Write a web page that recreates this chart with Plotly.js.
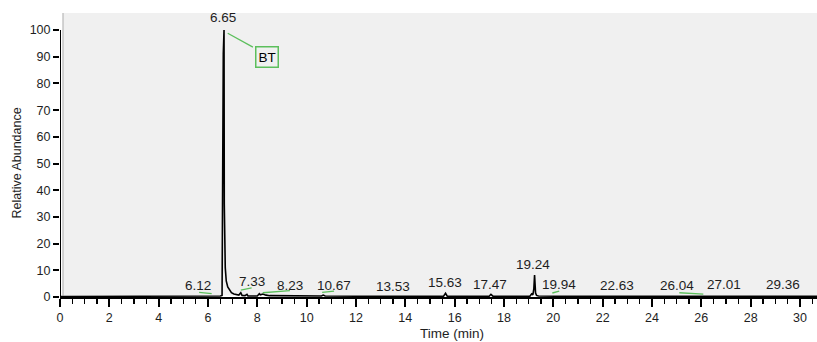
<!DOCTYPE html>
<html>
<head>
<meta charset="utf-8">
<script src="https://cdn.plot.ly/plotly-3.0.1.min.js"></script>
<style>html,body{margin:0;padding:0;background:#fff;}#chart{width:817px;height:342px;}</style>
</head>
<body>
<div id="chart"></div>
<script>
// Chromatogram trace (time in min, relative abundance %)
const timeMin = [0, 2, 4, 5.5, 6.0, 6.12, 6.3, 6.5, 6.57, 6.59, 6.61, 6.62, 6.65, 6.66, 6.70, 6.74, 6.80, 6.88, 6.95, 7.05, 7.15, 7.25, 7.33, 7.38, 7.50, 7.58, 7.62, 7.70, 8.00, 8.08, 8.12, 8.23, 8.35, 8.50, 9.50, 10.60, 10.67, 10.75, 12.0, 13.53, 15.55, 15.63, 15.70, 17.40, 17.47, 17.55, 19.05, 19.12, 19.17, 19.21, 19.24, 19.28, 19.32, 19.40, 19.94, 20.10, 22.63, 26.04, 27.01, 29.36, 30.69];
const abundance = [0.2, 0.2, 0.2, 0.2, 0.3, 0.4, 0.3, 0.4, 0.6, 91, 88, 91, 100, 35, 11, 6, 3.8, 2.4, 1.6, 1.1, 0.9, 0.7, 1.6, 0.6, 0.5, 1.0, 0.4, 0.4, 0.4, 1.2, 0.8, 1.1, 0.7, 0.5, 0.4, 0.4, 0.7, 0.4, 0.3, 0.3, 0.3, 1.4, 0.3, 0.3, 1.0, 0.3, 0.3, 1.2, 0.8, 3, 8.2, 1.5, 0.6, 0.4, 0.5, 0.3, 0.3, 0.3, 0.3, 0.3, 0.3];

// Peak labels (retention times) and label anchor positions
const peakLabels = ['6.12', '6.65', '7.33', '8.23', '10.67', '13.53', '15.63', '17.47', '19.24', '19.94', '22.63', '26.04', '27.01', '29.36'];
const labelX = [5.59, 6.60, 7.77, 9.32, 11.11, 13.49, 15.61, 17.43, 19.19, 20.24, 22.57, 25.0, 26.92, 29.32];
const labelY = [4.2, 104.6, 5.7, 4.2, 4.2, 4.1, 5.4, 4.8, 12.0, 4.8, 4.3, 4.3, 4.5, 4.5];

// Green label leader lines [x0, y0, x1, y1]
const leaderX0 = [5.64, 7.33, 8.22, 10.63, 19.96, 25.11, 6.80];
const leaderY0 = [1.76, 2.6, 1.6, 1.7, 1.5, 1.6, 98.8];
const leaderX1 = [6.15, 7.77, 9.32, 11.11, 20.24, 26.08, 7.82];
const leaderY1 = [1.24, 3.4, 2.4, 2.2, 2.2, 1.1, 93.6];

const boxLabel = 'BT';
const boxX = 8.38, boxY = 90.0;

const xTicks = [0, 2, 4, 6, 8, 10, 12, 14, 16, 18, 20, 22, 24, 26, 28, 30];
const yTicks = [0, 10, 20, 30, 40, 50, 60, 70, 80, 90, 100];

const FONT = 'Liberation Sans, Arial, sans-serif';
const TXT = '#1e1e1e';
const GREEN = '#5cbf5c';

const shapes = [
  {type: 'rect', xref: 'paper', yref: 'paper', x0: 0.004, x1: 1, y0: 0.005, y1: 1,
   fillcolor: '#f0f0f0', line: {width: 0}, layer: 'below'},
  {type: 'line', xref: 'paper', yref: 'paper', x0: 0.004, x1: 0.004, y0: 0.005, y1: 1,
   line: {color: '#c4c4c4', width: 1.5}, layer: 'below'},
  {type: 'line', xref: 'x', yref: 'y', x0: 0, x1: 0, y0: 0, y1: 100,
   line: {color: '#000', width: 2}}
];
for (let i = 0; i < leaderX0.length; i++) {
  shapes.push({type: 'line', xref: 'x', yref: 'y', x0: leaderX0[i], y0: leaderY0[i], x1: leaderX1[i], y1: leaderY1[i],
    line: {color: GREEN, width: 1.3}});
}

const annotations = peakLabels.map((t, i) => ({
  x: labelX[i], y: labelY[i], xref: 'x', yref: 'y', text: t, showarrow: false,
  font: {family: FONT, size: 13.5, color: TXT}, xanchor: 'center', yanchor: 'middle'
}));
annotations.push({x: boxX, y: boxY, xref: 'x', yref: 'y', text: boxLabel, showarrow: false,
  font: {family: FONT, size: 13.5, color: '#000'}, bordercolor: GREEN, borderwidth: 1.5, borderpad: 2,
  bgcolor: '#f0f0f0', xanchor: 'center', yanchor: 'middle'});
annotations.push({x: 15.9, y: 0, xref: 'x', yref: 'paper', yshift: -36, text: 'Time (min)', showarrow: false,
  font: {family: FONT, size: 13.5, color: TXT}, xanchor: 'center', yanchor: 'middle'});
annotations.push({x: 0, y: 50, xref: 'paper', yref: 'y', xshift: -43, text: 'Relative Abundance', showarrow: false,
  textangle: -90, font: {family: FONT, size: 12.5, color: TXT}, xanchor: 'center', yanchor: 'middle'});

const trace = {
  x: timeMin, y: abundance, type: 'scatter', mode: 'lines',
  line: {color: '#000', width: 1.6}, hoverinfo: 'x+y'
};

const layout = {
  width: 817, height: 342,
  margin: {l: 60, r: 0, t: 13, b: 45},
  paper_bgcolor: '#ffffff', plot_bgcolor: 'rgba(0,0,0,0)',
  showlegend: false,
  font: {family: FONT, color: TXT},
  xaxis: {
    range: [0, 30.69], tickmode: 'array', tickvals: xTicks, ticktext: xTicks.map(String),
    ticks: 'outside', ticklen: 8, tickwidth: 2, tickcolor: '#000',
    minor: {dtick: 0.5, tick0: 0, ticks: 'outside', ticklen: 5, tickwidth: 1.5, tickcolor: '#000', showgrid: false},
    showline: true, linecolor: '#000', linewidth: 2, showgrid: false, zeroline: false,
    tickfont: {family: FONT, size: 12.5, color: TXT}, fixedrange: true
  },
  yaxis: {
    range: [0, 106.4], tickmode: 'array', tickvals: yTicks, ticktext: yTicks.map(String),
    ticks: 'outside', ticklen: 6, tickwidth: 2, tickcolor: '#000',
    showline: false, showgrid: false, zeroline: false,
    tickfont: {family: FONT, size: 12.5, color: TXT}, fixedrange: true
  },
  shapes: shapes,
  annotations: annotations
};

Plotly.newPlot('chart', [trace], layout, {displayModeBar: false, staticPlot: true});
</script>
</body>
</html>
